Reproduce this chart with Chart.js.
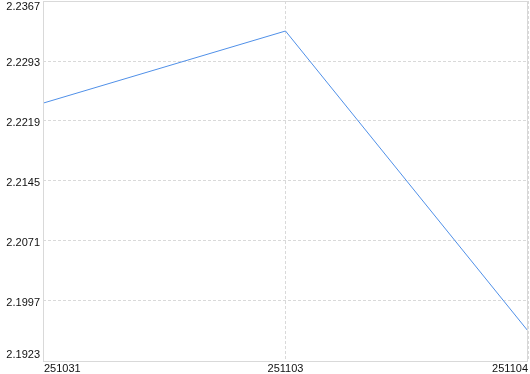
<!DOCTYPE html>
<html>
<head>
<meta charset="utf-8">
<script src="https://cdn.jsdelivr.net/npm/chart.js@4"></script>
<style>
  html, body { margin: 0; padding: 0; background: #fff; }
  #wrap { width: 530px; height: 374px; }
</style>
</head>
<body>
<div id="wrap"><canvas id="c" width="530" height="374"></canvas></div>
<script>
// data
const dates = ['251031', '251103', '251104'];
const prices = [2.2241, 2.2330, 2.1960];
const yTicks = [2.1923, 2.1997, 2.2071, 2.2145, 2.2219, 2.2293, 2.2367];

const FONT = '11px "Liberation Sans", Arial, sans-serif';

// draws the frame and the tick labels (first/last labels kept inside the frame)
const labelPlugin = {
  id: 'labels',
  afterDraw(chart) {
    const { ctx, chartArea: a, scales } = chart;
    ctx.save();
    ctx.strokeStyle = '#d9d9d9';
    ctx.lineWidth = 1;
    ctx.strokeRect(a.left + 0.5, a.top + 0.5, a.right - a.left - 1, a.bottom - a.top);

    ctx.font = FONT;
    ctx.fillStyle = '#111';
    ctx.textAlign = 'right';
    yTicks.forEach((v, i) => {
      const y = scales.y.getPixelForValue(v);
      let base = 'middle', yy = y + 2;
      if (i === yTicks.length - 1) { base = 'top'; yy = y; }
      if (i === 0) { base = 'bottom'; yy = y - 1; }
      ctx.textBaseline = base;
      ctx.fillText(v.toFixed(4), a.left - 3, yy);
    });

    ctx.textBaseline = 'top';
    dates.forEach((d, i) => {
      const x = scales.x.getPixelForValue(i);
      ctx.textAlign = i === 0 ? 'left' : (i === dates.length - 1 ? 'right' : 'center');
      ctx.fillText(d, x + (i === 0 ? 1 : 0), a.bottom + 2);
    });
    ctx.restore();
  }
};

new Chart(document.getElementById('c'), {
  type: 'line',
  data: {
    labels: dates,
    datasets: [{
      data: prices,
      borderColor: '#5090e8',
      borderWidth: 1,
      pointRadius: 0,
      tension: 0,
      fill: false
    }]
  },
  options: {
    responsive: false,
    animation: false,
    layout: { padding: { top: 1, right: 2, left: 0, bottom: 0 } },
    plugins: { legend: { display: false }, tooltip: { enabled: false } },
    scales: {
      x: {
        type: 'category',
        offset: false,
        border: { display: false, dash: [3, 2] },
        grid: { color: '#d9d9d9', lineWidth: 1, drawTicks: false },
        ticks: { display: false },
        afterFit(s) { s.height = 13; }
      },
      y: {
        min: yTicks[0],
        max: yTicks[yTicks.length - 1],
        border: { display: false, dash: [3, 2] },
        grid: { color: '#d9d9d9', lineWidth: 1, drawTicks: false },
        ticks: { display: false },
        afterBuildTicks(s) { s.ticks = yTicks.map(v => ({ value: v })); },
        afterFit(s) { s.width = 43; }
      }
    }
  },
  plugins: [labelPlugin]
});
</script>
</body>
</html>
